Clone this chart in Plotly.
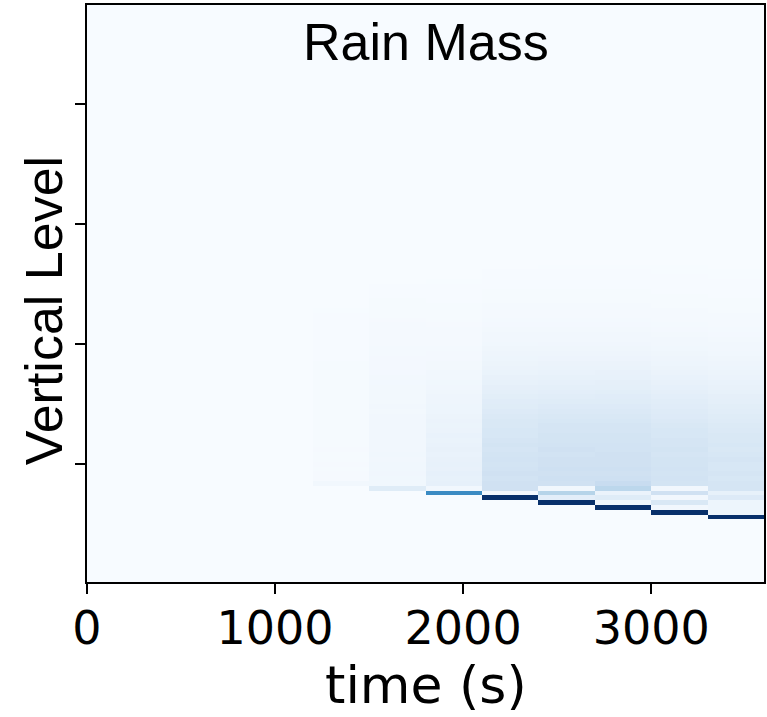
import plotly.graph_objects as go

# ---- data -------------------------------------------------------------
# output times: centres of the 300-s averaging intervals (s)
times = [150, 450, 750, 1050, 1350, 1650, 1950, 2250, 2550, 2850, 3150, 3450]
n_levels = 120
levels = list(range(1, n_levels + 1))

# lowest non-zero model level for each column that contains rain
rain_start_level = {1350: 21, 1650: 20, 1950: 19, 2250: 18,
                    2550: 17, 2850: 16, 3150: 15, 3450: 14}

# normalised rain mass, listed upward from the start level
rain_t1350 = [0.03, 0.012, 0.012, 0.011, 0.012, 0.011, 0.011, 0.012, 0.011, 0.010,
              0.011, 0.010, 0.010, 0.011, 0.010, 0.009, 0.010, 0.009, 0.009, 0.010,
              0.009, 0.008, 0.009, 0.008, 0.008, 0.008, 0.007, 0.007, 0.007, 0.006,
              0.006, 0.006, 0.005, 0.005, 0.004, 0.004, 0.003]
rain_t1650 = [0.12, 0.035, 0.034, 0.036, 0.033, 0.034, 0.032, 0.033, 0.031, 0.032,
              0.030, 0.031, 0.029, 0.030, 0.028, 0.029, 0.027, 0.028, 0.026, 0.025,
              0.026, 0.024, 0.023, 0.024, 0.022, 0.021, 0.020, 0.020, 0.019, 0.018,
              0.017, 0.016, 0.015, 0.014, 0.013, 0.012, 0.011, 0.010, 0.009, 0.008,
              0.007, 0.005, 0.004]
rain_t1950 = [0.65, 0.03, 0.085, 0.08, 0.085, 0.075, 0.08, 0.075, 0.07, 0.075,
              0.07, 0.065, 0.068, 0.062, 0.058, 0.06, 0.055, 0.05, 0.05, 0.046,
              0.043, 0.04, 0.037, 0.034, 0.031, 0.028, 0.026, 0.024, 0.022, 0.02,
              0.018, 0.017, 0.015, 0.014, 0.013, 0.012, 0.011, 0.01, 0.009, 0.008,
              0.007, 0.006, 0.005, 0.004, 0.003]
rain_t2250 = [1.0, 0.02, 0.2, 0.2, 0.19, 0.2, 0.19, 0.18, 0.19, 0.18,
              0.17, 0.18, 0.17, 0.16, 0.16, 0.15, 0.15, 0.14, 0.13, 0.12,
              0.115, 0.105, 0.095, 0.09, 0.08, 0.075, 0.065, 0.06, 0.055, 0.05,
              0.045, 0.04, 0.035, 0.031, 0.028, 0.025, 0.022, 0.019, 0.017, 0.015,
              0.013, 0.011, 0.009, 0.008, 0.007, 0.006, 0.005, 0.004]
rain_t2550 = [1.0, 0.1, 0.3, 0.03, 0.2, 0.21, 0.2, 0.21, 0.2, 0.2,
              0.19, 0.2, 0.19, 0.18, 0.18, 0.17, 0.17, 0.16, 0.15, 0.14,
              0.13, 0.12, 0.11, 0.1, 0.095, 0.085, 0.08, 0.07, 0.065, 0.06,
              0.052, 0.046, 0.04, 0.036, 0.032, 0.028, 0.025, 0.022, 0.019, 0.017,
              0.015, 0.013, 0.011, 0.009, 0.008, 0.007, 0.006, 0.005, 0.004, 0.003]
rain_t2850 = [1.0, 0.04, 0.12, 0.06, 0.28, 0.24, 0.21, 0.2, 0.21, 0.2,
              0.2, 0.2, 0.19, 0.19, 0.18, 0.18, 0.17, 0.17, 0.16, 0.15,
              0.14, 0.13, 0.12, 0.115, 0.105, 0.095, 0.09, 0.08, 0.075, 0.065,
              0.06, 0.052, 0.046, 0.04, 0.036, 0.032, 0.028, 0.025, 0.022, 0.019,
              0.017, 0.015, 0.013, 0.011, 0.009, 0.008, 0.007, 0.006, 0.005, 0.004,
              0.003, 0.002]
rain_t3150 = [1.0, 0.03, 0.15, 0.03, 0.2, 0.03, 0.18, 0.19, 0.18, 0.19,
              0.18, 0.18, 0.17, 0.18, 0.17, 0.17, 0.16, 0.16, 0.15, 0.14,
              0.13, 0.125, 0.115, 0.11, 0.1, 0.09, 0.085, 0.075, 0.07, 0.06,
              0.055, 0.05, 0.044, 0.04, 0.035, 0.031, 0.028, 0.025, 0.022, 0.019,
              0.017, 0.015, 0.013, 0.011, 0.009, 0.008, 0.007, 0.006, 0.005, 0.004,
              0.003, 0.003, 0.002]
rain_t3450 = [1.0, 0.05, 0.05, 0.05, 0.13, 0.08, 0.17, 0.17, 0.16, 0.17,
              0.16, 0.16, 0.17, 0.16, 0.15, 0.16, 0.15, 0.15, 0.14, 0.135,
              0.125, 0.12, 0.11, 0.105, 0.095, 0.09, 0.08, 0.075, 0.068, 0.06,
              0.055, 0.05, 0.044, 0.04, 0.035, 0.031, 0.028, 0.025, 0.022, 0.019,
              0.017, 0.015, 0.013, 0.011, 0.009, 0.008, 0.007, 0.006, 0.005, 0.004,
              0.003, 0.003, 0.002, 0.002]

rain_columns = {1350: rain_t1350, 1650: rain_t1650, 1950: rain_t1950,
                2250: rain_t2250, 2550: rain_t2550, 2850: rain_t2850,
                3150: rain_t3150, 3450: rain_t3450}

x_ticks = [0, 1000, 2000, 3000]
y_ticks = [25, 50, 75, 100]

# ---- build grid -------------------------------------------------------
z = [[0.0] * len(times) for _ in levels]
for t, vals in rain_columns.items():
    j = times.index(t)
    k0 = rain_start_level[t]
    for i, v in enumerate(vals):
        z[k0 - 1 + i][j] = v

blues = [[0.0, "#f7fbff"], [0.125, "#deebf7"], [0.25, "#c6dbef"],
         [0.375, "#9ecae1"], [0.5, "#6baed6"], [0.625, "#4292c6"],
         [0.75, "#2171b5"], [0.875, "#08519c"], [1.0, "#08306b"]]

fig = go.Figure(go.Heatmap(x=times, y=levels, z=z, colorscale=blues,
                           zmin=0, zmax=1, showscale=False))

fig.update_layout(
    width=767, height=717,
    margin=dict(l=87, r=1, t=5, b=135),
    paper_bgcolor="white", plot_bgcolor="#f7fbff",
    font=dict(family="DejaVu Sans", color="black"),
    xaxis=dict(range=[0, 3600], tickvals=x_ticks, ticks="outside", ticklen=10,
               tickwidth=1.5, tickcolor="black", showline=True, linecolor="black",
               linewidth=1.5, mirror=True, showgrid=False, zeroline=False,
               ticklabelstandoff=-5,
               tickfont=dict(family="DejaVu Sans", size=46)),
    yaxis=dict(range=[0.5, 120.5], tickvals=y_ticks, ticks="outside", ticklen=10,
               tickwidth=1.5, tickcolor="black", showticklabels=False,
               showline=True, linecolor="black", linewidth=1.5, mirror=True,
               showgrid=False, zeroline=False),
    annotations=[
        dict(text="Rain Mass", xref="paper", yref="paper", x=0.5, y=0.936,
             xanchor="center", yanchor="middle", showarrow=False,
             font=dict(family="Liberation Sans", size=52)),
        dict(text="time (s)", xref="paper", yref="paper", x=0.5,
             y=-(685 - 582) / 577, xanchor="center", yanchor="middle",
             showarrow=False, font=dict(family="DejaVu Sans", size=52)),
        dict(text="Vertical Level", xref="paper", yref="paper",
             x=(44 - 87) / 679, y=(582 - 311) / 577, xanchor="center",
             yanchor="middle", textangle=-90, showarrow=False,
             font=dict(family="Liberation Sans", size=52)),
    ],
)

fig.write_html("out.html")
